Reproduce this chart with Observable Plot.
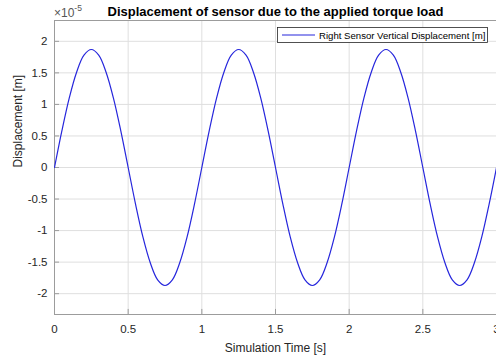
<!DOCTYPE html>
<html>
<head>
<meta charset="utf-8">
<script src="https://cdn.jsdelivr.net/npm/d3@7"></script>
<script src="https://cdn.jsdelivr.net/npm/@observablehq/plot@0.6"></script>
<style>
  html, body { margin: 0; padding: 0; background: #fff; }
  #chart { width: 496px; height: 355px; overflow: hidden; }
  svg { font-family: "Liberation Sans", Arial, Helvetica, sans-serif; }
</style>
</head>
<body>
<div id="chart"></div>
<script>
// Simulation time [s]
const timeS = [
  0.00, 0.05, 0.10, 0.15, 0.20, 0.25, 0.30, 0.35, 0.40, 0.45,
  0.50, 0.55, 0.60, 0.65, 0.70, 0.75, 0.80, 0.85, 0.90, 0.95,
  1.00, 1.05, 1.10, 1.15, 1.20, 1.25, 1.30, 1.35, 1.40, 1.45,
  1.50, 1.55, 1.60, 1.65, 1.70, 1.75, 1.80, 1.85, 1.90, 1.95,
  2.00, 2.05, 2.10, 2.15, 2.20, 2.25, 2.30, 2.35, 2.40, 2.45,
  2.50, 2.55, 2.60, 2.65, 2.70, 2.75, 2.80, 2.85, 2.90, 2.95,
  3.00
];
// Right sensor vertical displacement, in units of 1e-5 m
const dispE5 = [
  0.00, 0.58, 1.10, 1.51, 1.78, 1.87, 1.78, 1.51, 1.10, 0.58,
  0.00, -0.58, -1.10, -1.51, -1.78, -1.87, -1.78, -1.51, -1.10, -0.58,
  0.00, 0.58, 1.10, 1.51, 1.78, 1.87, 1.78, 1.51, 1.10, 0.58,
  0.00, -0.58, -1.10, -1.51, -1.78, -1.87, -1.78, -1.51, -1.10, -0.58,
  0.00, 0.58, 1.10, 1.51, 1.78, 1.87, 1.78, 1.51, 1.10, 0.58,
  0.00, -0.58, -1.10, -1.51, -1.78, -1.87, -1.78, -1.51, -1.10, -0.58,
  0.00
];
const xTicks = [0, 0.5, 1, 1.5, 2, 2.5, 3];
const yTicks = [-2, -1.5, -1, -0.5, 0, 0.5, 1, 1.5, 2];
const titleText = "Displacement of sensor due to the applied torque load";
const xLabel = "Simulation Time [s]";
const yLabel = "Displacement [m]";
const legendLabel = "Right Sensor Vertical Displacement [m]";

const data = timeS.map((t, i) => ({t, d: dispE5[i]}));
const yMin = -2.33, yMax = 2.33;
const fmt = d => String(d);
const textColor = "#262626";
const gridColor = "#dfdfdf";
const axisColor = "#9c9c9c";
const lineColor = "#2626dc";

const plot = Plot.plot({
  width: 496,
  height: 355,
  marginLeft: 54,
  marginRight: 0,
  marginTop: 20,
  marginBottom: 41,
  style: {fontFamily: "Liberation Sans, Arial, sans-serif", fontSize: "11.5px", color: textColor, background: "#fff"},
  x: {domain: [0, 3], ticks: xTicks, tickFormat: fmt},
  y: {domain: [yMin, yMax], ticks: yTicks, tickFormat: fmt},
  marks: [
    Plot.ruleX(xTicks, {stroke: gridColor, strokeWidth: 1}),
    Plot.ruleY(yTicks, {stroke: gridColor, strokeWidth: 1}),
    // inward tick marks
    Plot.ruleX(xTicks, {y1: yMin, y2: yMin + 0.08, stroke: axisColor}),
    Plot.ruleY(yTicks, {x1: 0, x2: 0.034, stroke: axisColor}),
    Plot.frame({stroke: axisColor}),
    Plot.line(data, {x: "t", y: "d", stroke: lineColor, strokeWidth: 1.2, curve: "catmull-rom"}),
    Plot.axisX({ticks: xTicks, tickFormat: fmt, tickSize: 0, tickPadding: 10, label: null, fill: textColor, fontSize: 11.5}),
    Plot.axisY({ticks: yTicks, tickFormat: fmt, tickSize: 0, tickPadding: 7, label: null, fill: textColor, fontSize: 11.5}),
    Plot.text([xLabel], {frameAnchor: "bottom", dy: 37, fill: textColor, fontSize: 12}),
    Plot.text([yLabel], {frameAnchor: "left", dx: -36, rotate: -90, fill: textColor, fontSize: 12}),
    Plot.text([titleText], {frameAnchor: "top", dy: -14, fill: "#000", fontSize: 13, fontWeight: "bold"})
  ]
});

const svg = d3.select(plot);
// exponent label ×10^-5
const ex = svg.append("text").attr("x", 54).attr("y", 17).attr("fill", "#555")
  .attr("font-size", 12).attr("text-anchor", "start");
ex.append("tspan").text("×10");
ex.append("tspan").attr("dy", -6).attr("font-size", 8.5).text("-5");

// legend
const lg = svg.append("g");
lg.append("rect").attr("x", 277.5).attr("y", 27.5).attr("width", 210).attr("height", 15)
  .attr("fill", "#fff").attr("stroke", "#262626").attr("stroke-width", 0.8);
lg.append("line").attr("x1", 282).attr("x2", 315).attr("y1", 35).attr("y2", 35)
  .attr("stroke", lineColor).attr("stroke-width", 1.2);
lg.append("text").attr("x", 319).attr("y", 38.8).attr("font-size", 9.6).attr("fill", "#000")
  .attr("text-anchor", "start").text(legendLabel);

document.getElementById("chart").appendChild(plot);
</script>
</body>
</html>
